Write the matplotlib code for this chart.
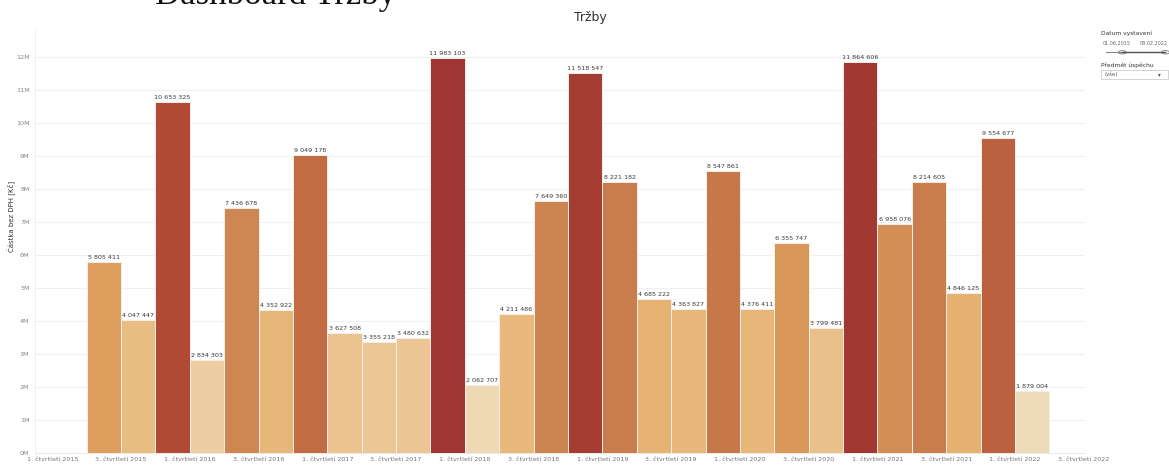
import numpy as np
import matplotlib
matplotlib.use("Agg")
import matplotlib.pyplot as plt
from matplotlib.colors import LinearSegmentedColormap, Normalize
from matplotlib.patches import Rectangle, Circle
from matplotlib.lines import Line2D

# --- DATA ---
# quarters Q2 2015 .. Q1 2022 (index 0 = Q1 2015)
quarter_idx = list(range(1, 29))
trzby = [5805411, 4047447, 10653325, 2834303, 7436678, 4352922, 9049178,
         3627508, 3355218, 3480632, 11983103, 2062707, 4211486, 7649360,
         11518547, 8221182, 4685222, 4363827, 8547861, 4376411, 6355747,
         3799481, 11864606, 6958076, 8214605, 4846125, 9554677, 1879004]
years = list(range(2015, 2023))
tick_labels = [f"{q}. čtvrtletí {y}" for y in years for q in (1, 3)]
y_ticks_m = list(range(0, 13))

# --- COLORS (sequential orange-brown by value) ---
cmap = LinearSegmentedColormap.from_list("oranzova", [
    (0.00, "#EEDBB8"),
    (0.16, "#EBC592"),
    (0.25, "#E7B577"),
    (0.33, "#E5AC6C"),
    (0.39, "#DF9F5E"),
    (0.55, "#CE8752"),
    (0.65, "#C77A4C"),
    (0.72, "#C16A43"),
    (0.85, "#B24D36"),
    (1.00, "#A03632"),
])
norm = Normalize(vmin=min(trzby), vmax=max(trzby))

# --- PLOT ---
fig = plt.figure(figsize=(11.69, 4.71), dpi=100)
ax = fig.add_axes([0.030, 0.038, 0.898, 0.902])

ax.bar(quarter_idx, trzby, width=1.0, align="edge",
       color=[cmap(norm(v)) for v in trzby], edgecolor="#f4efe9", linewidth=0.7,
       zorder=2)

for x, v in zip(quarter_idx, trzby):
    ax.text(x + 0.5, v + 60000, f"{v:,}".replace(",", " "), ha="center", va="bottom",
            fontsize=4.6, color="#3a3a3a", zorder=3)

ax.set_xlim(-0.5, 30.03)
ax.set_ylim(0, 12.88e6)
ax.set_xticks(list(range(0, 31, 2)))
ax.set_xticklabels(tick_labels, fontsize=4.6, color="#777777")
ax.set_yticks([m * 1e6 for m in y_ticks_m])
ax.set_yticklabels([f"{m}M" for m in y_ticks_m], fontsize=4.6, color="#888888")
ax.tick_params(axis="both", length=0, pad=3)
ax.tick_params(axis="y", pad=4)

ax.grid(axis="y", color="#f0f0f0", linewidth=0.8, zorder=0)
for side in ("top", "right"):
    ax.spines[side].set_visible(False)
ax.spines["left"].set_color("#eeeeee")
ax.spines["bottom"].set_color("#e6e6e6")
ax.spines["left"].set_linewidth(0.6)
ax.spines["bottom"].set_linewidth(0.6)

fig.text(0.0105, 0.54, "Částka bez DPH [Kč]", rotation=90, ha="center", va="center",
         fontsize=5, color="#333333")

# titulky
fig.text(0.505, 0.962, "Tržby", ha="center", va="center", fontsize=9, color="#333333")
fig.text(0.133, 1 - 4 / 471, "Dashboard Tržby", ha="left", va="baseline",
         fontsize=25, family="Liberation Serif", color="#111111")

# --- FILTRY (vpravo) ---
fig.text(0.942, 0.930, "Datum vystavení", fontsize=4.3, color="#333333", va="center")
fig.text(0.943, 0.908, "01.06.2015", fontsize=3.5, color="#666666", va="center")
fig.text(0.999, 0.908, "08.02.2022", fontsize=3.5, color="#666666", va="center", ha="right")
fig.add_artist(Line2D([0.946, 0.997], [0.889, 0.889], color="#888888", lw=0.8))
fig.add_artist(Line2D([0.960, 0.997], [0.889, 0.889], color="#555555", lw=1.0))
for cx in (0.960, 0.997):
    fig.add_artist(Circle((cx, 0.889), 0.0035, transform=fig.transFigure,
                          facecolor="white", edgecolor="#777777", lw=0.6,
                          clip_on=False))
fig.text(0.942, 0.862, "Předmět úspěchu", fontsize=4.3, color="#333333", va="center")
fig.add_artist(Rectangle((0.942, 0.832), 0.057, 0.020, transform=fig.transFigure,
                         facecolor="white", edgecolor="#cccccc", lw=0.6))
fig.text(0.945, 0.842, "(vše)", fontsize=3.8, color="#555555", va="center")
fig.text(0.992, 0.842, "▾", fontsize=4, color="#555555", va="center", ha="center")

plt.savefig("out.png", dpi=100)
